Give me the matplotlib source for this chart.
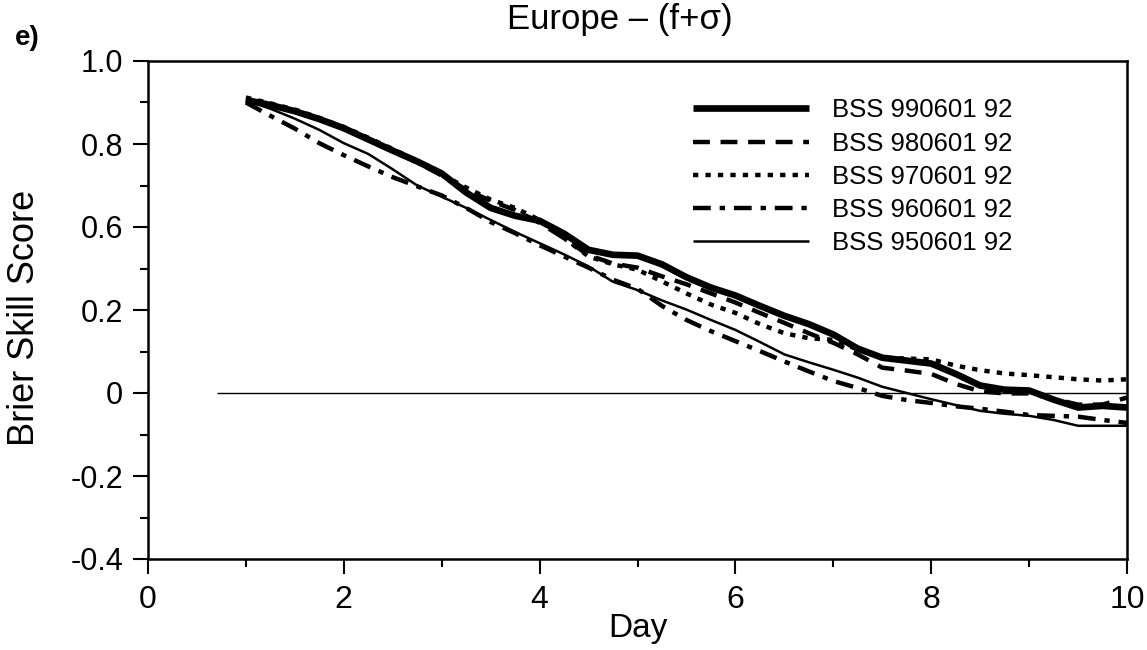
import numpy as np
import matplotlib.pyplot as plt
from matplotlib.ticker import MultipleLocator, FixedLocator, FixedFormatter

plt.rcParams['font.family'] = ['Liberation Sans', 'DejaVu Sans']

# forecast day, sampled every 6 hours from day 1 to day 10
days = np.arange(1.0, 10.01, 0.25)

bss_990601 = [0.706, 0.694, 0.679, 0.660, 0.638, 0.611, 0.584, 0.558, 0.529, 0.483,
              0.446, 0.427, 0.415, 0.384, 0.345, 0.333, 0.331, 0.310, 0.279, 0.254,
              0.235, 0.210, 0.186, 0.166, 0.141, 0.107, 0.085, 0.078, 0.071, 0.046,
              0.018, 0.008, 0.006, -0.016, -0.035, -0.031, -0.035]
bss_980601 = [0.706, 0.693, 0.678, 0.659, 0.637, 0.610, 0.583, 0.556, 0.524, 0.490,
              0.463, 0.441, 0.410, 0.373, 0.332, 0.312, 0.302, 0.281, 0.262, 0.240,
              0.218, 0.193, 0.169, 0.144, 0.121, 0.093, 0.061, 0.054, 0.046, 0.022,
              0.004, -0.001, -0.001, -0.014, -0.028, -0.028, -0.011]
bss_970601 = [0.712, 0.698, 0.683, 0.663, 0.641, 0.615, 0.588, 0.559, 0.527, 0.495,
              0.466, 0.446, 0.417, 0.373, 0.329, 0.310, 0.297, 0.269, 0.240, 0.213,
              0.193, 0.166, 0.144, 0.132, 0.128, 0.105, 0.085, 0.083, 0.081, 0.066,
              0.055, 0.047, 0.043, 0.038, 0.033, 0.030, 0.033]
bss_960601 = [0.700, 0.668, 0.637, 0.602, 0.573, 0.546, 0.520, 0.498, 0.476, 0.446,
              0.412, 0.385, 0.356, 0.329, 0.302, 0.273, 0.251, 0.210, 0.176, 0.149,
              0.125, 0.101, 0.076, 0.052, 0.029, 0.012, -0.007, -0.017, -0.024, -0.032,
              -0.038, -0.045, -0.053, -0.055, -0.057, -0.065, -0.072]
bss_950601 = [0.705, 0.685, 0.661, 0.634, 0.602, 0.576, 0.539, 0.500, 0.473, 0.446,
              0.417, 0.388, 0.361, 0.334, 0.305, 0.268, 0.248, 0.223, 0.201, 0.176,
              0.152, 0.123, 0.093, 0.074, 0.056, 0.037, 0.015, 0.000, -0.015, -0.029,
              -0.043, -0.050, -0.055, -0.065, -0.079, -0.079, -0.079]

labels = ['BSS 990601 92', 'BSS 980601 92', 'BSS 970601 92',
          'BSS 960601 92', 'BSS 950601 92']

ytick_pos = [-0.4, -0.2, 0.0, 0.2, 0.4, 0.6, 0.8]
ytick_labels = ['-0.4', '-0.2', '0', '0.2', '0.6', '0.8', '1.0']
zero_line_start = 0.7

fig = plt.figure(figsize=(11.47, 6.5), dpi=100)
ax = fig.add_axes([148 / 1147, 1 - 559 / 650, 979 / 1147, 498 / 650])

l5, = ax.plot(days, bss_950601, color='black', lw=1.8, solid_capstyle='butt')
l4, = ax.plot(days, bss_960601, color='black', lw=3.2, linestyle=(0, (4.0, 2.0, 1.2, 2.0)))
l3, = ax.plot(days, bss_970601, color='black', lw=3.2, linestyle=(0, (1.2, 1.6)))
l2, = ax.plot(days, bss_980601, color='black', lw=3.2, linestyle=(0, (3.8, 2.4)))
l1, = ax.plot(days, bss_990601, color='black', lw=4.8, solid_capstyle='butt')

ax.hlines(0, zero_line_start, 10, color='black', lw=1.0)

ax.set_xlim(0, 10)
ax.set_ylim(-0.4, 0.8)
ax.xaxis.set_major_locator(MultipleLocator(2))
ax.xaxis.set_minor_locator(MultipleLocator(1))
ax.yaxis.set_major_locator(FixedLocator(ytick_pos))
ax.yaxis.set_major_formatter(FixedFormatter(ytick_labels))
ax.yaxis.set_minor_locator(MultipleLocator(0.1))
ax.tick_params(which='both', direction='out', width=1.5, top=False, right=False)
ax.tick_params(which='major', length=11)
ax.tick_params(which='minor', length=6)
ax.tick_params(axis='x', labelsize=23, pad=8)
ax.tick_params(axis='y', labelsize=22, pad=7)
for side in ax.spines.values():
    side.set_linewidth(1.8)

ax.set_xlabel('Day', fontsize=24, labelpad=-2)
fig.text(25 / 1147, 1 - 318 / 650, 'Brier Skill Score', rotation=90,
         ha='center', va='center', fontsize=26)
fig.text(620 / 1147, 1 - 19 / 650, 'Europe \u2013 (f+\u03c3)', ha='center',
         va='center', fontsize=25)
fig.text(15 / 1147, 1 - 38 / 650, 'e)', ha='left', va='center',
         fontsize=20, fontweight='bold')

ax.legend([l1, l2, l3, l4, l5], labels, loc='upper left',
          bbox_to_anchor=(0.557, 0.925), frameon=False, fontsize=18.5,
          handlelength=4.5, handletextpad=0.9, labelspacing=0.36,
          borderpad=0, borderaxespad=0)

fig.savefig('out.png', dpi=100)
